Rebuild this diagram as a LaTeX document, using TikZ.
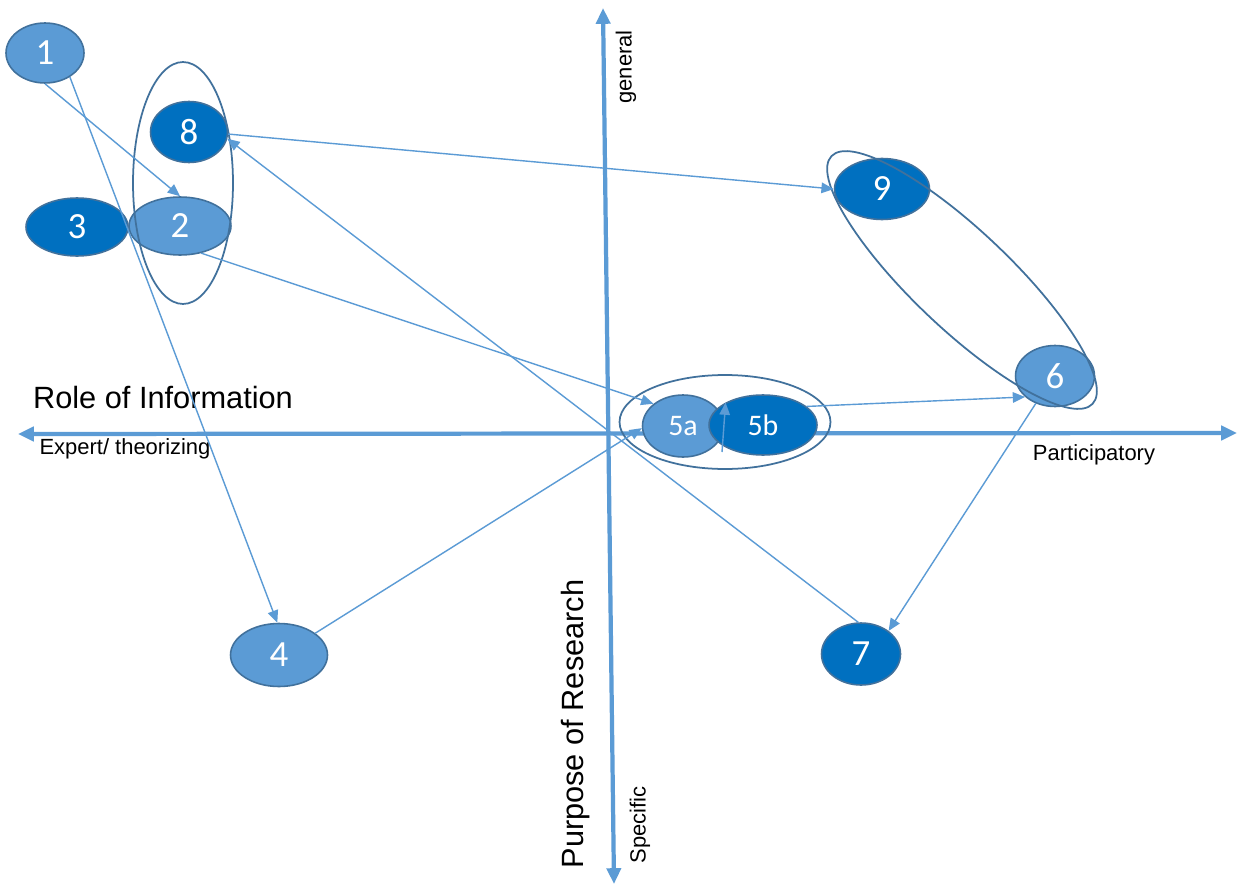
\documentclass[tikz,border=0pt]{standalone}
\usepackage{fontspec}
\setmainfont{Liberation Sans}
\newfontfamily\numfont{Carlito}
\usetikzlibrary{arrows.meta,shapes.geometric,calc}
\definecolor{lightb}{HTML}{5B9BD5}
\definecolor{darkb}{HTML}{0070C0}
\definecolor{edgeb}{HTML}{41719C}
\definecolor{grpb}{HTML}{41719C}
\begin{document}
\begin{tikzpicture}[x=0.02cm,y=-0.02cm,
 bub/.style={ellipse, draw=edgeb, line width=0.9pt, inner sep=0pt, text=white, font=\numfont\fontsize{21}{21}\selectfont},
 lt/.style={bub, fill=lightb},
 dk/.style={bub, fill=darkb},
 grp/.style={ellipse, draw=grpb, line width=1pt, inner sep=0pt},
 conn/.style={draw=lightb, line width=0.8pt, -{Triangle[length=7pt,width=6pt]}},
 axisline/.style={draw=lightb, line width=2.4pt, {Triangle[length=9pt,width=8pt]}-{Triangle[length=9pt,width=8pt]}},
 lbl/.style={font=\fontsize{12.5}{13}\selectfont, inner sep=0pt},
 big/.style={font=\fontsize{17.5}{18}\selectfont, inner sep=0pt}]
\useasboundingbox (0,0) rectangle (1239,885);
\fill[white] (0,0) rectangle (1239,885);
% axes
\coordinate (axL) at (18,434);
\coordinate (axR) at (1237,433);
\coordinate (axT) at (603,8);
\coordinate (axB) at (614,884);
\draw[axisline] (axL) -- (axR);
\draw[axisline] (axB) -- (axT);
% labels
\node[big] (tRole) at (163,398) {Role of Information};
\node[lbl] (tExp) at (125,449) {Expert/ theorizing};
\node[lbl] (tPart) at (1094,455) {Participatory};
\node[lbl, rotate=90] (tGen) at (626,67) {general};
\node[lbl, rotate=90] (tSpec) at (640,825) {Specific};
\node[big, rotate=90] (tPur) at (576,724) {Purpose of Research};
% nodes
\node[lt, minimum width=1.56cm, minimum height=1.2cm] (n1) at (45,53) {1};
\node[dk, minimum width=2.04cm, minimum height=1.16cm] (n3) at (77,227) {3};
\node[lt, minimum width=2.04cm, minimum height=1.16cm] (n2) at (180,226) {2};
\node[dk, minimum width=1.54cm, minimum height=1.22cm] (n8) at (189,132) {8};
\node[dk, minimum width=1.9cm, minimum height=1.22cm] (n9) at (882,189) {9};
\node[lt, minimum width=1.58cm, minimum height=1.22cm] (n6) at (1055,376) {6};
\node[lt, minimum width=1.62cm, minimum height=1.24cm, font=\numfont\fontsize{17}{17}\selectfont] (n5a) at (683,426) {5a};
\node[dk, minimum width=2.16cm, minimum height=1.2cm, font=\numfont\fontsize{17}{17}\selectfont] (n5b) at (763,425) {5b};
\node[lt, minimum width=1.94cm, minimum height=1.26cm] (n4) at (279,655) {4};
\node[dk, minimum width=1.58cm, minimum height=1.24cm] (n7) at (861,654) {7};
% groups
\node[grp, minimum width=2cm, minimum height=4.84cm] (g82) at (183,183) {};
\node[grp, minimum width=4.22cm, minimum height=1.88cm] (g5) at (725,422) {};
\node[grp, minimum width=7.2cm, minimum height=1.96cm, rotate=-43.5] (g96) at (962,280) {};
% connectors
\coordinate (c5) at (722,452);
\draw[conn] (n1.-90) -- (n2.north);
\draw[conn] (n1.-44) -- (n4.93);
\draw[conn] (n2.-52) -- (n5a.143);
\draw[conn] (n8.-3) -- (n9.west);
\draw[conn] (n7.95) -- (n8.-10);
\draw[conn] (n4.31) -- (n5a.183);
\draw[conn] (c5) -- (n5b.149);
\draw[conn] (n5b.23) -- (n6.215);
\draw[conn] (n6.235) -- (n7.40);
\end{tikzpicture}
\end{document}
